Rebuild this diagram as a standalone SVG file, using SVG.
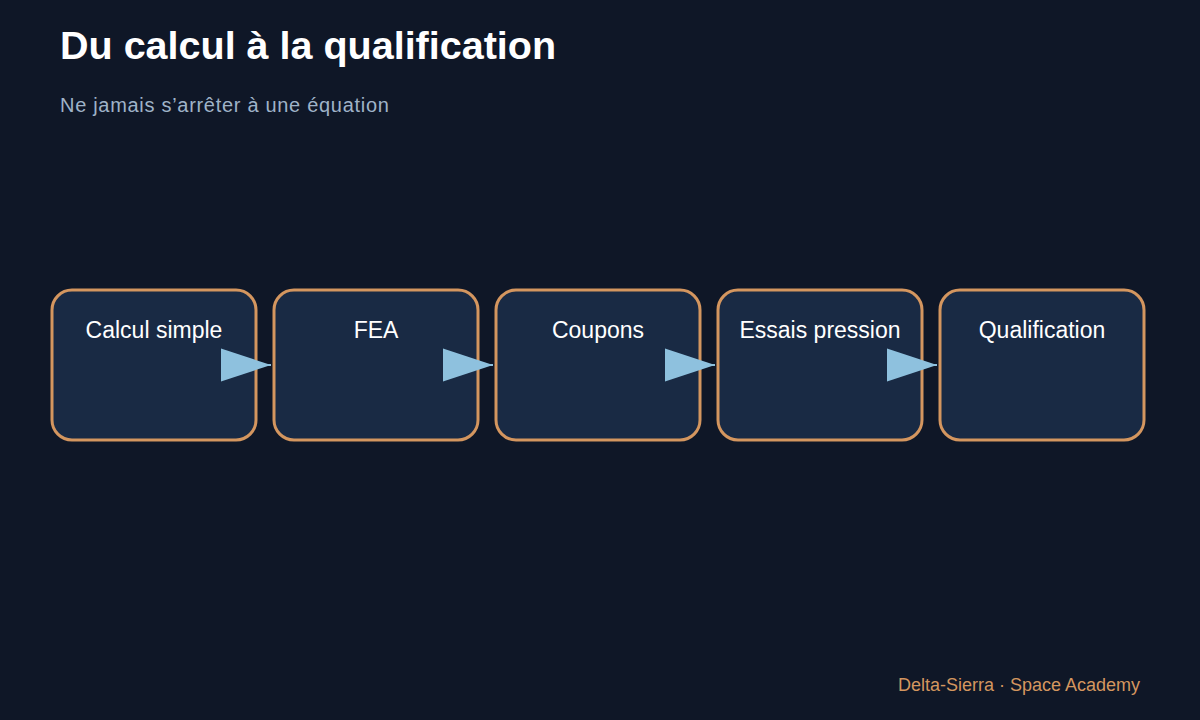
<svg xmlns="http://www.w3.org/2000/svg" width="1200" height="720" viewBox="0 0 1200 720">
  <defs>
    <marker id="arrow" markerUnits="userSpaceOnUse" markerWidth="50" markerHeight="34" refX="50" refY="17" orient="auto" viewBox="0 0 50 34">
      <path d="M0,0.5 L50,17 L0,33.5 z" fill="#8ec1de"/>
    </marker>
  </defs>
  <style>
    .box { fill: #192a44; stroke: #d4965f; stroke-width: 3; }
    .label { font-family: "Liberation Sans", Arial, sans-serif; font-size: 23px; fill: #ffffff; text-anchor: middle; }
    .conn { stroke: #8ec1de; stroke-width: 2; fill: none; marker-end: url(#arrow); }
  </style>
  <rect width="1200" height="720" fill="#0f1727"/>
  <text x="60" y="59" font-family="Liberation Sans, Arial, sans-serif" font-size="39.5" font-weight="bold" fill="#ffffff">Du calcul à la qualification</text>
  <text x="60" y="112" font-family="Liberation Sans, Arial, sans-serif" font-size="20" letter-spacing="0.7" fill="#9fb3c8">Ne jamais s’arrêter à une équation</text>

  <g id="node-calcul">
    <rect class="box" x="52" y="290" width="204" height="150" rx="20"/>
    <text class="label" x="154" y="338">Calcul simple</text>
  </g>
  <g id="node-fea">
    <rect class="box" x="274" y="290" width="204" height="150" rx="20"/>
    <text class="label" x="376" y="338">FEA</text>
  </g>
  <g id="node-coupons">
    <rect class="box" x="496" y="290" width="204" height="150" rx="20"/>
    <text class="label" x="598" y="338">Coupons</text>
  </g>
  <g id="node-essais">
    <rect class="box" x="718" y="290" width="204" height="150" rx="20"/>
    <text class="label" x="820" y="338">Essais pression</text>
  </g>
  <g id="node-qualification">
    <rect class="box" x="940" y="290" width="204" height="150" rx="20"/>
    <text class="label" x="1042" y="338">Qualification</text>
  </g>

  <g id="connectors">
    <path class="conn" d="M256,365 L271,365"/>
    <path class="conn" d="M478,365 L493,365"/>
    <path class="conn" d="M700,365 L715,365"/>
    <path class="conn" d="M922,365 L937,365"/>
  </g>

  <text x="1140" y="691" font-family="Liberation Sans, Arial, sans-serif" font-size="18" fill="#d4965f" text-anchor="end">Delta-Sierra · Space Academy</text>
</svg>
